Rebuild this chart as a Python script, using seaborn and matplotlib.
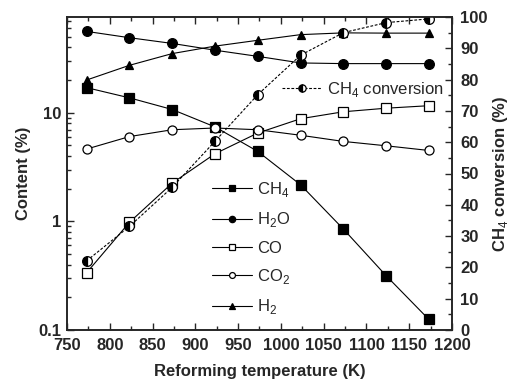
import numpy as np
import pandas as pd
import matplotlib
matplotlib.use('Agg')
import matplotlib.pyplot as plt
import matplotlib.ticker as mticker
import seaborn as sns

# datos
temperatura = [773, 823, 873, 923, 973, 1023, 1073, 1123, 1173]
ch4 = [17.0, 13.7, 10.7, 7.4, 4.4, 2.17, 0.85, 0.316, 0.125]
h2o = [56.0, 49.0, 43.4, 37.6, 33.0, 28.7, 28.3, 28.3, 28.3]
co = [0.337, 0.98, 2.25, 4.19, 6.5, 8.8, 10.2, 11.0, 11.6]
co2 = [4.63, 6.03, 6.97, 7.23, 6.97, 6.2, 5.44, 4.96, 4.49]
h2 = [20.0, 27.3, 35.0, 41.0, 46.4, 52.3, 54.3, 54.0, 54.0]
conversion_ch4 = [22.1, 33.1, 45.6, 60.3, 75.2, 87.8, 95.0, 98.2, 99.4]

etiquetas = ['CH$_4$', 'H$_2$O', 'CO', 'CO$_2$', 'H$_2$']
series = [ch4, h2o, co, co2, h2]
marcadores = ['s', 'o', 's', 'o', '^']
rellenos = ['black', 'black', 'white', 'white', 'black']
tamanos = [7, 7, 6.5, 6.5, 6]

ticks_x = [750, 800, 850, 900, 950, 1000, 1050, 1100, 1150, 1200]
ticks_izq = [0.1, 1, 10]
etiq_izq = ['0.1', '1', '10']
ticks_der = [0, 10, 20, 30, 40, 50, 60, 70, 80, 90, 100]

sns.set_style('ticks')
plt.rcParams['font.family'] = ['Liberation Sans', 'DejaVu Sans']
plt.rcParams['mathtext.fontset'] = 'custom'
plt.rcParams['mathtext.rm'] = 'Liberation Sans'
plt.rcParams['mathtext.bf'] = 'Liberation Sans:bold'

fig = plt.figure(figsize=(5.12, 3.89), dpi=100)
ax = fig.add_axes([67 / 512, 1 - 330 / 389, (452 - 67) / 512, (330 - 17) / 389])
ax2 = ax.twinx()

df = pd.DataFrame({'T': temperatura})
for nombre, valores in zip(etiquetas, series):
    df[nombre] = valores
df['conv'] = conversion_ch4

for nombre, m, fc, ms in zip(etiquetas, marcadores, rellenos, tamanos):
    sns.lineplot(data=df, x='T', y=nombre, ax=ax, color='black', lw=0.8,
                 marker=m, markersize=ms, markerfacecolor=fc,
                 markeredgecolor='black', markeredgewidth=0.9, label=nombre)

sns.lineplot(data=df, x='T', y='conv', ax=ax2, color='black', lw=0.8,
             linestyle=(0, (2.5, 1.5)), marker='o', markersize=7,
             fillstyle='left', markerfacecolor='black', markerfacecoloralt='white',
             markeredgecolor='black', markeredgewidth=0.9, label='CH$_4$ conversion')

ax.set_yscale('log')
ax.set_xlim(750, 1200)
ax.set_ylim(0.1, 76)
ax2.set_ylim(0, 100)

ax.set_xticks(ticks_x)
ax.set_xticklabels([str(t) for t in ticks_x])
ax.xaxis.set_minor_locator(mticker.MultipleLocator(25))
ax.set_yticks(ticks_izq)
ax.set_yticklabels(etiq_izq)
ax.yaxis.set_minor_locator(mticker.LogLocator(base=10, subs=np.arange(2, 10)))
ax.yaxis.set_minor_formatter(mticker.NullFormatter())
ax2.set_yticks(ticks_der)
ax2.set_yticklabels([str(t) for t in ticks_der])
ax2.yaxis.set_minor_locator(mticker.MultipleLocator(5))

ax.tick_params(axis='both', which='both', direction='in', top=True, right=False, width=1)
ax.tick_params(axis='x', pad=6)
ax.tick_params(axis='y', pad=4)
ax.tick_params(which='major', length=5)
ax.tick_params(which='minor', length=3)
ax2.tick_params(axis='y', which='both', direction='in', width=1, pad=6)
ax2.tick_params(which='major', length=5)
ax2.tick_params(which='minor', length=3)
for a in (ax, ax2):
    for s in a.spines.values():
        s.set_linewidth(1.2)

ax.set_xlabel('Reforming temperature (K)', fontsize=12, fontweight='bold', labelpad=8)
ax.set_ylabel('Content (%)', fontsize=12, fontweight='bold', labelpad=5)
ax2.set_ylabel('CH$_4$ conversion (%)', fontsize=12, fontweight='bold', labelpad=2)

h, l = ax.get_legend_handles_labels()
ax.legend(h, l, loc='upper left', bbox_to_anchor=(0.36, 0.50), frameon=False,
          fontsize=12, handlelength=2.4, handletextpad=0.3,
          labelspacing=0.68, markerscale=0.65, borderaxespad=0)
h2_, l2_ = ax2.get_legend_handles_labels()
ax2.legend(h2_, l2_, loc='upper left', bbox_to_anchor=(0.54, 0.82), frameon=False,
           fontsize=12, handlelength=2.4, handletextpad=0.3,
           markerscale=0.75, borderaxespad=0)

# negrita en las etiquetas de los ticks, tras dibujar
fig.canvas.draw()
for lbl in ax.get_xticklabels() + ax.get_yticklabels() + ax2.get_yticklabels():
    lbl.set_fontweight('bold')
    lbl.set_fontsize(12)

fig.savefig('out.png', dpi=100)
